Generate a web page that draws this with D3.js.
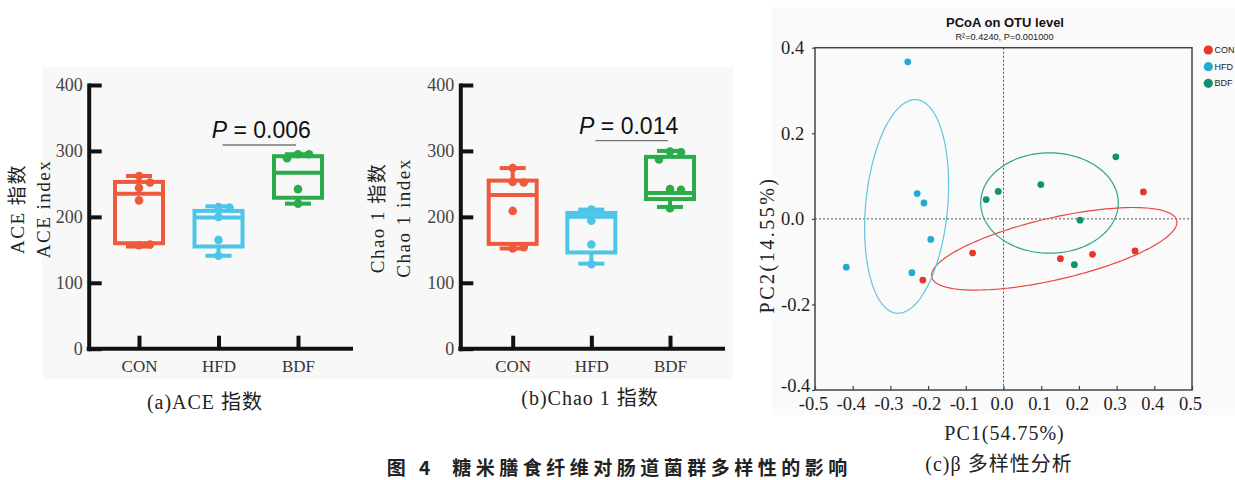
<!DOCTYPE html>
<html>
<head>
<meta charset="utf-8">
<script src="https://cdn.jsdelivr.net/npm/d3@7"></script>
<style>
  body { margin: 0; background: #fff; }
  svg { display: block; }
  .serif { font-family: "Liberation Serif", "Noto Sans CJK SC", serif; }
  .sans { font-family: "Liberation Sans", Arial, sans-serif; }
</style>
</head>
<body>
<svg id="chart" width="1235" height="480"></svg>
<script>
// ---------------- DATA ----------------
const groups = ["CON", "HFD", "BDF"];
const groupColors = ["#ef5a3c", "#4cc5e9", "#2bab4a"];
const yTicks = [0, 100, 200, 300, 400];

// (a) ACE index box statistics
const aceMin = [155, 141, 220];
const aceQ1  = [160, 155, 229];
const aceMed = [235, 199, 267];
const aceQ3  = [253, 209, 292];
const aceMax = [262, 216, 295];
const acePoints = [
  [262, 252, 244, 225, 157, 158],
  [215, 214, 200, 165, 141],
  [295, 295, 289, 242, 220]
];
const aceP = "0.006";

// (b) Chao 1 index box statistics
const chaoMin = [152, 129, 215];
const chaoQ1  = [159, 146, 227];
const chaoMed = [233, 200, 236];
const chaoQ3  = [255, 206, 291];
const chaoMax = [274, 211, 300];
const chaoPoints = [
  [274, 253, 252, 209, 152, 154],
  [211, 194, 158, 128],
  [299, 298, 287, 242, 241, 213]
];
const chaoP = "0.014";

// (c) PCoA
const pcoaGroups = ["CON", "HFD", "BDF"];
const pcoaColors = ["#e8352b", "#22aad3", "#0f9172"];
const ellipseColors = ["#e84a3e", "#62c4de", "#2ea38a"];
const conPC1 = [-0.214, -0.082, 0.151, 0.236, 0.349, 0.371];
const conPC2 = [-0.143, -0.080, -0.093, -0.083, -0.075, 0.063];
const hfdPC1 = [-0.254, -0.229, -0.211, -0.193, -0.417, -0.243];
const hfdPC2 = [0.367, 0.059, 0.037, -0.048, -0.113, -0.126];
const bdfPC1 = [-0.046, -0.014, 0.099, 0.203, 0.188, 0.298];
const bdfPC2 = [0.045, 0.064, 0.080, -0.003, -0.107, 0.145];
// confidence ellipses: centre and two conjugate semi-axis vectors (PC1, PC2 units)
const ellipseCenterPC1 = [0.1345, -0.257, 0.122];
const ellipseCenterPC2 = [-0.070, 0.029, 0.037];
const ellipseAxis1 = [[0.325, 0.0661], [0.0265, 0.2495], [0.1825, 0]];
const ellipseAxis2 = [[0.0185, -0.0703], [0.1082, -0.0089], [0, 0.1173]];
const pcXTicks = [-0.5, -0.4, -0.3, -0.2, -0.1, 0, 0.1, 0.2, 0.3, 0.4, 0.5];
const pcYTicks = [-0.4, -0.2, 0, 0.2, 0.4];

// ---------------- DRAW ----------------
const svg = d3.select("#chart");
svg.append("rect").attr("width", 1235).attr("height", 480).attr("fill", "#fff");
// faint scan backgrounds
svg.append("rect").attr("x", 42).attr("y", 67).attr("width", 691).attr("height", 312).attr("fill", "#f8f8f8");
svg.append("rect").attr("x", 772).attr("y", 7).attr("width", 463).attr("height", 408).attr("fill", "#fafafa");

function boxPanel(cfg) {
  const g = svg.append("g");
  const y = d3.scaleLinear().domain([0, 400]).range([348.7, 85]);
  const x = d3.scalePoint().domain(groups).range(cfg.xRange);

  // y axis
  const ya = g.append("g").attr("transform", `translate(${cfg.axisX},0)`)
    .call(d3.axisLeft(y).tickValues(yTicks).tickSize(-13).tickSizeOuter(0).tickPadding(6));
  ya.select(".domain").attr("stroke", "#111").attr("stroke-width", 4).attr("stroke-linecap", "square");
  ya.selectAll(".tick line").attr("stroke", "#111").attr("stroke-width", 4);
  ya.selectAll(".tick text").attr("class", "serif").attr("font-size", 18).attr("fill", "#444");

  // x axis
  g.append("line").attr("x1", cfg.axisX - 2).attr("x2", cfg.axisEnd)
    .attr("y1", y(0)).attr("y2", y(0)).attr("stroke", "#111").attr("stroke-width", 4);
  const xa = g.append("g").attr("transform", `translate(0,${y(0)})`)
    .call(d3.axisBottom(x).tickSize(-13).tickSizeOuter(0).tickPadding(11));
  xa.select(".domain").remove();
  xa.selectAll(".tick line").attr("stroke", "#111").attr("stroke-width", 4);
  xa.selectAll(".tick text").attr("class", "serif").attr("font-size", 17).attr("fill", "#333");

  const hw = 24, cw = 13, r = 4.3;
  groups.forEach((grp, i) => {
    const cx = x(grp), col = groupColors[i];
    const bg = g.append("g").attr("fill", "none").attr("stroke", col).attr("stroke-width", 4);
    // whiskers
    bg.append("line").attr("x1", cx).attr("x2", cx).attr("y1", y(cfg.max[i])).attr("y2", y(cfg.q3[i]));
    bg.append("line").attr("x1", cx).attr("x2", cx).attr("y1", y(cfg.q1[i])).attr("y2", y(cfg.min[i]));
    bg.append("line").attr("x1", cx - cw).attr("x2", cx + cw).attr("y1", y(cfg.max[i])).attr("y2", y(cfg.max[i]));
    bg.append("line").attr("x1", cx - cw).attr("x2", cx + cw).attr("y1", y(cfg.min[i])).attr("y2", y(cfg.min[i]));
    // box
    bg.append("rect").attr("x", cx - hw).attr("width", 2 * hw)
      .attr("y", y(cfg.q3[i])).attr("height", y(cfg.q1[i]) - y(cfg.q3[i]));
    bg.append("line").attr("x1", cx - hw).attr("x2", cx + hw).attr("y1", y(cfg.med[i])).attr("y2", y(cfg.med[i]));
    // points with simple dodge
    const placed = [];
    const step = 11;
    cfg.points[i].forEach(v => {
      const py = y(v);
      const offs = [0];
      for (let k = 1; k < 6; k++) offs.push(k * step, -k * step);
      let o = offs.find(o => placed.every(p => Math.hypot(p.x - o, p.y - py) >= 2 * r));
      if (o === undefined) o = 0;
      placed.push({ x: o, y: py });
      g.append("circle").attr("cx", cx + o).attr("cy", py).attr("r", r).attr("fill", col);
    });
  });

  // significance bar
  const x1 = x("HFD") + 4, x2 = x("BDF") - 2;
  g.append("line").attr("x1", x1).attr("x2", x2).attr("y1", cfg.barY).attr("y2", cfg.barY)
    .attr("stroke", "#777").attr("stroke-width", 1.3);
  const t = g.append("text").attr("class", "sans").attr("x", (x1 + x2) / 2 + cfg.pShift).attr("y", cfg.barY - 7)
    .attr("text-anchor", "middle").attr("font-size", 23).attr("fill", "#111");
  t.append("tspan").attr("font-style", "italic").text("P");
  t.append("tspan").text(" = " + cfg.p);

  // y label (two lines)
  cfg.ylabel.forEach((s, j) => {
    g.append("text").attr("class", "serif")
      .attr("transform", `translate(${cfg.ylabX[j]},${cfg.ylabY}) rotate(-90)`)
      .attr("text-anchor", "middle").attr("dy", "0.35em")
      .attr("font-size", 19).attr("letter-spacing", 1.5).attr("fill", "#222").text(s);
  });
  // caption
  g.append("text").attr("class", "serif").attr("x", cfg.capX).attr("y", cfg.capY)
    .attr("text-anchor", "middle").attr("font-size", 20).attr("letter-spacing", 1)
    .attr("fill", "#222").text(cfg.caption);
}

boxPanel({
  xRange: [139, 298], axisX: 88.7, axisEnd: 353,
  min: aceMin, q1: aceQ1, med: aceMed, q3: aceQ3, max: aceMax, points: acePoints,
  p: aceP, barY: 145, pShift: 2,
  ylabel: ["ACE 指数", "ACE index"], ylabX: [17, 43], ylabY: 209,
  caption: "(a)ACE 指数", capX: 205, capY: 409
});
boxPanel({
  xRange: [512.7, 670], axisX: 460.3, axisEnd: 725,
  min: chaoMin, q1: chaoQ1, med: chaoMed, q3: chaoQ3, max: chaoMax, points: chaoPoints,
  p: chaoP, barY: 140.7, pShift: -3,
  ylabel: ["Chao 1 指数", "Chao 1 index"], ylabX: [377, 403], ylabY: 218,
  caption: "(b)Chao 1 指数", capX: 590, capY: 405
});

// ---------------- PCoA ----------------
const pc = svg.append("g");
const px = d3.scaleLinear().domain([-0.5, 0.5]).range([815, 1192]);
const py = d3.scaleLinear().domain([-0.4, 0.4]).range([390, 47.7]);

pc.append("text").attr("class", "sans").attr("x", 1005).attr("y", 26.5).attr("text-anchor", "middle")
  .attr("font-size", 13).attr("font-weight", "bold").attr("fill", "#111").text("PCoA on OTU level");
pc.append("text").attr("class", "sans").attr("x", 1004.5).attr("y", 40).attr("text-anchor", "middle")
  .attr("font-size", 9.2).attr("fill", "#222").text("R²=0.4240, P=0.001000");

// zero reference lines
pc.append("line").attr("x1", px(0)).attr("x2", px(0)).attr("y1", py(0.4)).attr("y2", py(-0.4))
  .attr("stroke", "#555").attr("stroke-width", 1).attr("stroke-dasharray", "2,2");
pc.append("line").attr("x1", px(-0.5)).attr("x2", px(0.5)).attr("y1", py(0)).attr("y2", py(0))
  .attr("stroke", "#555").attr("stroke-width", 1).attr("stroke-dasharray", "2,2");

// axes
const fmt = d => d.toFixed(1);
const pya = pc.append("g").attr("transform", `translate(${px(-0.5)},0)`)
  .call(d3.axisLeft(py).tickValues(pcYTicks).tickSize(3).tickSizeOuter(0).tickFormat(fmt));
pya.select(".domain").remove();
pya.selectAll(".tick line").attr("stroke", "#444").attr("stroke-width", 1.2);
pya.selectAll(".tick text").attr("class", "serif").attr("font-size", 18.5).attr("fill", "#222")
  .attr("text-anchor", "start").attr("x", -34)
  .attr("dy", d => d === -0.4 ? "0.1em" : "0.32em");

const pxa = pc.append("g").attr("transform", `translate(0,${py(-0.4)})`)
  .call(d3.axisBottom(px).tickValues(pcXTicks).tickSize(-4).tickSizeOuter(0).tickPadding(7).tickFormat(fmt));
pxa.select(".domain").remove();
pxa.selectAll(".tick line").attr("stroke", "#444").attr("stroke-width", 1.2);
pxa.selectAll(".tick text").attr("class", "serif").attr("font-size", 18.5).attr("fill", "#222").attr("dx", -2);

// frame
pc.append("rect").attr("x", px(-0.5)).attr("y", py(0.4)).attr("width", px(0.5) - px(-0.5))
  .attr("height", py(-0.4) - py(0.4)).attr("fill", "none").attr("stroke", "#444").attr("stroke-width", 1.5);

// ellipses
const ts = d3.range(0, 2 * Math.PI + 0.001, Math.PI / 90);
const lineGen = d3.line().x(d => px(d[0])).y(d => py(d[1])).curve(d3.curveLinearClosed);
pcoaGroups.forEach((grp, i) => {
  const pts = ts.map(t => [
    ellipseCenterPC1[i] + ellipseAxis1[i][0] * Math.cos(t) + ellipseAxis2[i][0] * Math.sin(t),
    ellipseCenterPC2[i] + ellipseAxis1[i][1] * Math.cos(t) + ellipseAxis2[i][1] * Math.sin(t)
  ]);
  pc.append("path").attr("d", lineGen(pts)).attr("fill", "none")
    .attr("stroke", ellipseColors[i]).attr("stroke-width", 1.2);
});

// points
const pcData = [[conPC1, conPC2], [hfdPC1, hfdPC2], [bdfPC1, bdfPC2]];
pcData.forEach(([xs, ys], i) => {
  pc.selectAll(null).data(xs.map((v, k) => [v, ys[k]])).enter().append("circle")
    .attr("cx", d => px(d[0])).attr("cy", d => py(d[1])).attr("r", 3.4).attr("fill", pcoaColors[i]);
});

// legend
const legY = d3.scalePoint().domain(pcoaGroups).range([50, 83.3]);
pcoaGroups.forEach((grp, i) => {
  pc.append("circle").attr("cx", 1208.3).attr("cy", legY(grp)).attr("r", 4.6).attr("fill", pcoaColors[i]);
  pc.append("text").attr("class", "sans").attr("x", 1214.5).attr("y", legY(grp)).attr("dy", "0.35em")
    .attr("font-size", 9).attr("fill", "#222").text(grp);
});

// axis titles
pc.append("text").attr("class", "serif").attr("x", 1004.5).attr("y", 440).attr("text-anchor", "middle")
  .attr("font-size", 20).attr("letter-spacing", 1).attr("fill", "#222").text("PC1(54.75%)");
pc.append("text").attr("class", "serif").attr("transform", "translate(767,245) rotate(-90)")
  .attr("text-anchor", "middle").attr("dy", "0.35em")
  .attr("font-size", 20).attr("letter-spacing", 2.5).attr("fill", "#222").text("PC2(14.55%)");
pc.append("text").attr("class", "serif").attr("x", 999).attr("y", 471).attr("text-anchor", "middle")
  .attr("font-size", 20).attr("letter-spacing", 1).attr("fill", "#222").text("(c)β 多样性分析");

// figure caption
svg.append("text").attr("x", 386.7).attr("y", 475)
  .style("font-family", '"Noto Sans CJK SC", sans-serif').style("white-space", "pre")
  .attr("font-size", 19).attr("font-weight", 600).attr("letter-spacing", 4.5).attr("fill", "#222")
  .text("图 4  糖米膳食纤维对肠道菌群多样性的影响");
</script>
</body>
</html>
